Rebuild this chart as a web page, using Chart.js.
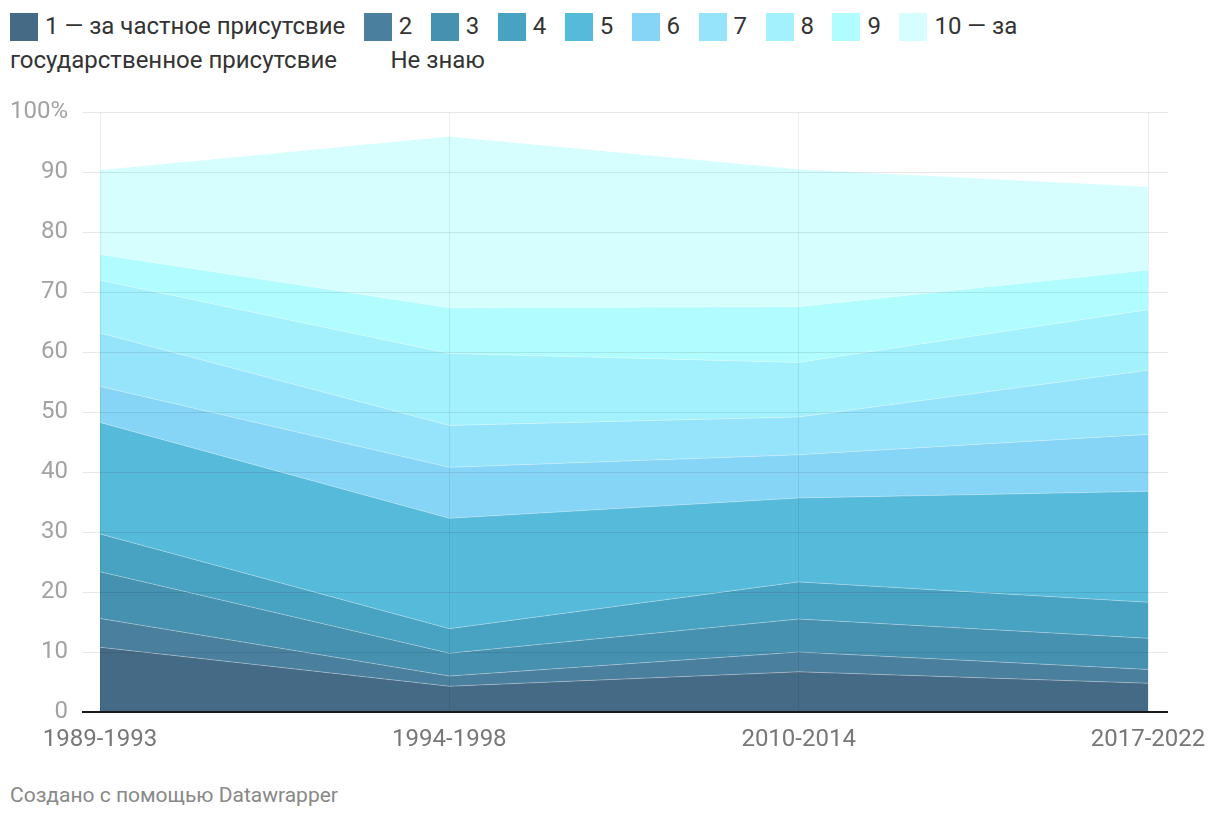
<!DOCTYPE html>
<html>
<head>
<meta charset="utf-8">
<script src="https://cdn.jsdelivr.net/npm/chart.js@4"></script>
<style>
  html, body { margin:0; padding:0; background:#fff; width:1220px; height:828px; overflow:hidden; font-family: Roboto, "Noto Sans", sans-serif; }
  #legend { position:absolute; left:10px; top:9px; width:1080px; font-size:24px; line-height:34px; color:#333; }
  #legend .item { margin-right:12.5px; }
  #legend .sw { display:inline-block; width:28px; height:28px; vertical-align:-7px; margin-right:7px; }
  #wrap { position:absolute; left:0; top:84px; width:1220px; height:686px; }
  #footer { position:absolute; left:10px; top:783px; font-size:21px; color:#888; }
</style>
</head>
<body>
<div id="legend"></div>
<div id="wrap"><canvas id="c"></canvas></div>
<div id="footer">Создано с помощью Datawrapper</div>
<script>
const categories = ['1989-1993', '1994-1998', '2010-2014', '2017-2022'];
const seriesNames = ['1 — за частное присутсвие', '2', '3', '4', '5', '6', '7', '8', '9', '10 — за государственное присутсвие', 'Не знаю'];
const s1  = [10.8, 4.3, 6.7, 4.8];
const s2  = [4.8, 1.7, 3.3, 2.3];
const s3  = [7.8, 3.8, 5.5, 5.2];
const s4  = [6.3, 4.1, 6.2, 6.0];
const s5  = [18.6, 18.4, 14.0, 18.5];
const s6  = [6.0, 8.5, 7.2, 9.5];
const s7  = [8.9, 7.0, 6.3, 10.7];
const s8  = [8.8, 12.0, 9.1, 10.1];
const s9  = [4.3, 7.6, 9.3, 6.6];
const s10 = [14.1, 28.6, 22.9, 13.9];
const neZnayu = [9.6, 4.0, 9.5, 12.4];
const yTicks = [0, 10, 20, 30, 40, 50, 60, 70, 80, 90, 100];

const colors = ['#456a86', '#4a7f9e', '#4690b0', '#48a2c2', '#56badb', '#86d5f6', '#96e4fb', '#a3f1fc', '#b0fcfe', '#d6feff', '#ffffff'];
const seriesData = [s1, s2, s3, s4, s5, s6, s7, s8, s9, s10, neZnayu];

// HTML legend
const lg = document.getElementById('legend');
seriesNames.forEach((n, i) => {
  const it = document.createElement('span');
  it.className = 'item';
  const sw = document.createElement('span');
  sw.className = 'sw';
  sw.style.background = colors[i];
  it.appendChild(sw);
  it.appendChild(document.createTextNode(n));
  lg.appendChild(it);
  lg.appendChild(document.createTextNode(' '));
});

const datasets = seriesData.map((d, i) => ({
  label: seriesNames[i],
  data: d,
  backgroundColor: i === 10 ? 'rgba(255,255,255,0)' : colors[i],
  borderColor: i === 10 ? 'rgba(255,255,255,0)' : 'rgba(255,255,255,0.3)',
  borderWidth: i === 10 ? 0 : 1,
  pointRadius: 0,
  pointHoverRadius: 0,
  tension: 0,
  fill: i === 0 ? 'origin' : '-1'
}));

const gridColor = ctx => (ctx.tick && ctx.tick.value === 0) ? '#1a1a1a' : 'rgba(0,0,0,0.09)';
const gridWidth = ctx => (ctx.tick && ctx.tick.value === 0) ? 2 : 1;

new Chart(document.getElementById('c'), {
  type: 'line',
  data: { labels: categories, datasets },
  options: {
    responsive: true,
    maintainAspectRatio: false,
    animation: false,
    events: [],
    layout: { padding: { top: 16, left: 0, right: 0, bottom: 0 } },
    plugins: { legend: { display: false }, tooltip: { enabled: false } },
    scales: {
      x: {
        offset: false,
        grid: { display: true, color: 'rgba(0,0,0,0.07)', drawTicks: false, z: 1 },
        border: { display: false },
        ticks: { color: '#777', font: { family: 'Roboto', size: 24 }, padding: 14, maxRotation: 0, autoSkip: false },
        afterFit: s => { s.height = 58; }
      },
      y: {
        stacked: true,
        min: 0, max: 100,
        afterBuildTicks: s => { s.ticks = yTicks.map(v => ({ value: v })); },
        grid: { color: gridColor, lineWidth: gridWidth, tickLength: 18, z: 1 },
        border: { display: false },
        ticks: { color: '#a2a2a2', font: { family: 'Roboto', size: 24 }, padding: 14,
                 callback: v => v === 100 ? '100%' : String(v) },
        afterFit: s => { s.width = 100; }
      },
      y2: {
        position: 'right',
        min: 0, max: 100,
        afterBuildTicks: s => { s.ticks = yTicks.map(v => ({ value: v })); },
        grid: { color: gridColor, lineWidth: gridWidth, tickLength: 20, drawOnChartArea: false },
        border: { display: false },
        ticks: { display: false },
        afterFit: s => { s.width = 72; }
      }
    }
  }
});
</script>
</body>
</html>
